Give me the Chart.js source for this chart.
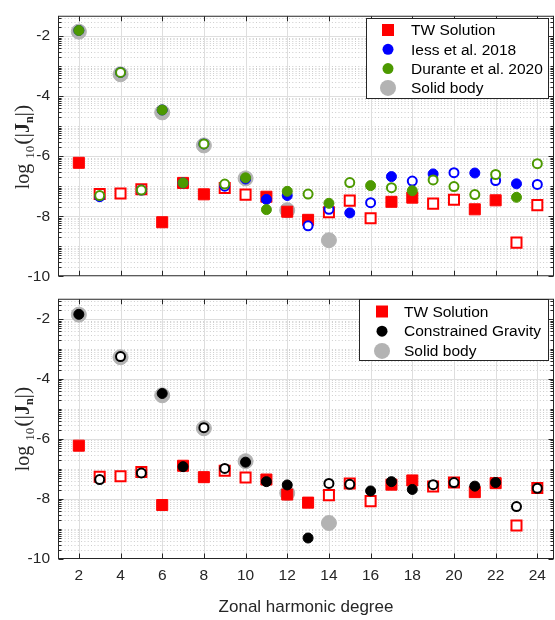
<!DOCTYPE html>
<html>
<head>
<meta charset="utf-8">
<script src="https://cdn.jsdelivr.net/npm/chart.js@4.4.1/dist/chart.umd.min.js"></script>
<style>
  html, body { margin: 0; padding: 0; background: #fff; }
  #wrap { position: relative; width: 555px; height: 620px; overflow: hidden; }
  canvas { position: absolute; left: 0; }
  #top { top: 0; }
  #bottom { top: 283px; }
  .ylab {
    position: absolute;
    font-family: "Liberation Serif", "DejaVu Serif", serif;
    font-size: 20px;
    color: #262626;
    white-space: nowrap;
    transform: translate(-50%, -50%) rotate(-90deg);
    line-height: 1;
  }
  .ylab .sub { font-size: 13px; position: relative; top: 5px; margin-left: 5px; margin-right: 1px; }
  .ylab .subn { font-size: 12px; position: relative; top: 4px; font-weight: bold; }
  .ylab .par { font-size: 22px; }
</style>
</head>
<body>
<div id="wrap">
  <canvas id="top" width="555" height="292" style="width:555px;height:292px"></canvas>
  <canvas id="bottom" width="555" height="337" style="width:555px;height:337px"></canvas>
  <div class="ylab" style="left:22px;top:147px">log<span class="sub">10</span><span class="par">(|</span><b>J</b><span class="subn">n</span><span class="par">|)</span></div>
  <div class="ylab" style="left:22px;top:429px">log<span class="sub">10</span><span class="par">(|</span><b>J</b><span class="subn">n</span><span class="par">|)</span></div>
</div>
<script>
// Zonal harmonic degrees n = 2 .. 24
const degrees = [2, 3, 4, 5, 6, 7, 8, 9, 10, 11, 12, 13, 14, 15, 16, 17, 18, 19, 20, 21, 22, 23, 24];

// log10 |Jn| for each solution; the *Filled arrays mark positive Jn (1) vs negative Jn (0)
const twLog     = [-6.22, -7.26, -7.24, -7.10, -8.20, -6.89, -7.27, -7.06, -7.28, -7.35, -7.85, -8.12, -7.87, -7.48, -8.07, -7.52, -7.38, -7.58, -7.45, -7.77, -7.47, -8.88, -7.63];
const twFilled  = [1, 0, 0, 0, 1, 1, 1, 0, 0, 1, 1, 1, 0, 0, 0, 1, 1, 0, 0, 1, 1, 0, 0];

const iessLog    = [-1.81, -7.35, -3.21, -7.13, -4.46, -6.89, -5.59, -7.00, -6.76, -7.44, -7.31, -8.32, -7.77, -7.89, -7.55, -6.68, -6.83, -6.59, -6.55, -6.56, -6.81, -6.92, -6.94];
const iessFilled = [1, 0, 0, 0, 1, 1, 0, 0, 1, 1, 1, 0, 0, 1, 0, 1, 0, 1, 0, 1, 0, 1, 0];

const duranteLog    = [-1.81, -7.31, -3.21, -7.13, -4.46, -6.89, -5.59, -6.93, -6.72, -7.78, -7.17, -7.26, -7.57, -6.88, -6.98, -7.05, -7.15, -6.79, -7.01, -7.28, -6.61, -7.37, -6.25];
const duranteFilled = [1, 0, 0, 0, 1, 1, 0, 0, 1, 1, 1, 0, 1, 0, 1, 0, 1, 0, 0, 0, 0, 1, 0];

const cgLog    = [-1.84, -7.35, -3.25, -7.13, -4.48, -6.92, -5.62, -6.98, -6.77, -7.42, -7.53, -9.30, -7.48, -7.51, -7.73, -7.42, -7.68, -7.52, -7.45, -7.57, -7.45, -8.25, -7.64];
const cgFilled = [1, 0, 0, 0, 1, 1, 0, 0, 1, 1, 1, 1, 0, 0, 1, 1, 1, 0, 0, 1, 1, 0, 0];

// Rigid (solid-body) rotation, even degrees only
const solidDegrees = [2, 4, 6, 8, 10, 12, 14];
const solidLog     = [-1.85, -3.27, -4.54, -5.64, -6.74, -7.80, -8.80];

// Axis ticks
const xTicks = [2, 4, 6, 8, 10, 12, 14, 16, 18, 20, 22, 24];
const yTicks = [-10, -8, -6, -4, -2];

const RED = '#ff0000', BLUE = '#0000ff', GREEN = '#4c9900', GRAY = '#b3b3b3', BLACK = '#000000';
const AXIS = '#262626';
const SANS = '"Liberation Sans", Arial, Helvetica, sans-serif';

function markerSeries(xs, ys, filled, o) {
  return {
    data: xs.map((d, i) => ({ x: d, y: ys[i] })),
    showLine: false,
    order: o.order,
    pointStyle: o.style,
    pointRadius: c => (filled[c.dataIndex] ? o.rFill : o.rOpen),
    pointBackgroundColor: c => (filled[c.dataIndex] ? o.color : '#ffffff'),
    pointBorderColor: o.color,
    pointBorderWidth: c => (filled[c.dataIndex] ? 1 : 2)
  };
}

const sq = { style: 'rect', rFill: 7.8, rOpen: 7.1 };
const dot = { style: 'circle', rFill: 5, rOpen: 4.5 };

// Minor positions within each decade (log10 spacing), majors at the even labels
function minorLevels(lo, hi) {
  const out = [];
  for (let d = Math.floor(lo); d < hi; d++) {
    for (let m = 2; m <= 10; m++) {
      const v = d + Math.log10(m);
      if (v <= lo || v >= hi) continue;
      const r = Math.round(v);
      if (Math.abs(v - r) < 1e-9 && r % 2 === 0) continue;
      out.push(v);
    }
  }
  return out;
}

const framePlugin = {
  id: 'frame',
  beforeDatasetsDraw(chart) {
    const { ctx, chartArea: a, scales: { x, y } } = chart;
    ctx.save();
    ctx.beginPath();
    ctx.rect(a.left, a.top, a.right - a.left, a.bottom - a.top);
    ctx.clip();
    ctx.lineWidth = 1;
    // dotted minor grid
    ctx.strokeStyle = '#cdcdcd';
    ctx.setLineDash([1, 2.3]);
    minorLevels(y.min, y.max).forEach(v => {
      const py = Math.round(y.getPixelForValue(v)) + 0.5;
      ctx.beginPath(); ctx.moveTo(a.left, py); ctx.lineTo(a.right, py); ctx.stroke();
    });
    // solid major grid
    ctx.setLineDash([]);
    ctx.strokeStyle = '#dedede';
    yTicks.forEach(v => {
      if (v <= y.min || v >= y.max) return;
      const py = Math.round(y.getPixelForValue(v)) + 0.5;
      ctx.beginPath(); ctx.moveTo(a.left, py); ctx.lineTo(a.right, py); ctx.stroke();
    });
    xTicks.forEach(v => {
      const px = Math.round(x.getPixelForValue(v)) + 0.5;
      ctx.beginPath(); ctx.moveTo(px, a.top); ctx.lineTo(px, a.bottom); ctx.stroke();
    });
    ctx.restore();
  },
  afterDatasetsDraw(chart) {
    const { ctx, chartArea: a, scales: { x, y } } = chart;
    const L = a.left + 0.5, R = a.right - 0.5, T = a.top + 0.5, B = a.bottom - 0.5;
    ctx.save();
    ctx.strokeStyle = AXIS;
    ctx.lineWidth = 1;
    ctx.beginPath();
    // y ticks, both sides, pointing inward
    yTicks.forEach(v => {
      const py = Math.round(y.getPixelForValue(v)) + 0.5;
      ctx.moveTo(L, py); ctx.lineTo(L + 5, py);
      ctx.moveTo(R, py); ctx.lineTo(R - 5, py);
    });
    minorLevels(y.min, y.max).forEach(v => {
      const py = Math.round(y.getPixelForValue(v)) + 0.5;
      ctx.moveTo(L, py); ctx.lineTo(L + 3, py);
      ctx.moveTo(R, py); ctx.lineTo(R - 3, py);
    });
    // x ticks, top and bottom
    xTicks.forEach(v => {
      const px = Math.round(x.getPixelForValue(v)) + 0.5;
      ctx.moveTo(px, B); ctx.lineTo(px, B - 5);
      ctx.moveTo(px, T); ctx.lineTo(px, T + 5);
    });
    ctx.stroke();
    ctx.strokeRect(L, T, R - L, B - T);
    ctx.restore();
  },
  afterDraw(chart, args, opts) {
    const lg = opts.legend;
    if (!lg) return;
    const { ctx } = chart;
    ctx.save();
    ctx.fillStyle = '#ffffff';
    ctx.fillRect(lg.x, lg.y, lg.w, lg.h);
    ctx.strokeStyle = AXIS;
    ctx.lineWidth = 1;
    ctx.strokeRect(lg.x + 0.5, lg.y + 0.5, lg.w - 1, lg.h - 1);
    ctx.font = '15.5px ' + SANS;
    ctx.textBaseline = 'middle';
    ctx.textAlign = 'left';
    lg.items.forEach((it, i) => {
      const cy = lg.y + lg.first + i * lg.step;
      ctx.fillStyle = it.color;
      ctx.beginPath();
      if (it.shape === 'rect') {
        ctx.rect(lg.mx - 6, cy - 6, 12, 12);
      } else {
        ctx.arc(lg.mx, cy, it.r, 0, Math.PI * 2);
      }
      ctx.fill();
      ctx.fillStyle = '#000000';
      ctx.fillText(it.label, lg.tx, cy + 1);
    });
    ctx.restore();
  }
};

function makePanel(id, datasets, legend, withXLabels, padTop, xHeight) {
  return new Chart(document.getElementById(id), {
    type: 'scatter',
    data: { datasets },
    plugins: [framePlugin],
    options: {
      responsive: false,
      animation: false,
      events: [],
      layout: { autoPadding: false, padding: { top: padTop, right: 1, left: 0, bottom: 0 } },
      plugins: {
        legend: { display: false },
        tooltip: { enabled: false },
        frame: { legend }
      },
      scales: {
        x: {
          type: 'linear', min: 1, max: 24.8,
          afterBuildTicks: s => { s.ticks = xTicks.map(v => ({ value: v })); },
          afterFit: s => { s.height = xHeight; },
          grid: { display: false, drawTicks: false },
          border: { display: false },
          ticks: {
            display: withXLabels,
            padding: 9,
            color: AXIS,
            font: { family: SANS, size: 15.5, lineHeight: 1 },
            callback: v => String(v)
          },
          title: {
            display: withXLabels,
            text: 'Zonal harmonic degree',
            color: AXIS,
            font: { family: SANS, size: 17 },
            padding: { top: 0, bottom: 2 }
          }
        },
        y: {
          type: 'linear', min: -10, max: -1.32,
          afterBuildTicks: s => { s.ticks = yTicks.map(v => ({ value: v })); },
          afterFit: s => { s.width = 58; },
          grid: { display: false, drawTicks: false },
          border: { display: false },
          ticks: {
            padding: 8,
            color: AXIS,
            font: { family: SANS, size: 15.5, lineHeight: 1 },
            callback: v => String(v)
          }
        }
      }
    }
  });
}

// Upper panel: wind solution against the gravity-field solutions
makePanel('top', [
  markerSeries(degrees, duranteLog, duranteFilled, Object.assign({ color: GREEN, order: 1 }, dot)),
  markerSeries(degrees, iessLog, iessFilled, Object.assign({ color: BLUE, order: 2 }, dot)),
  markerSeries(degrees, twLog, twFilled, Object.assign({ color: RED, order: 3 }, sq)),
  markerSeries(solidDegrees, solidLog, solidDegrees.map(() => 1), { color: GRAY, order: 4, style: 'circle', rFill: 7.5, rOpen: 7.5 })
], {
  x: 366, y: 18, w: 183, h: 81, mx: 388, tx: 411, first: 12, step: 19.3,
  items: [
    { label: 'TW Solution', shape: 'rect', color: RED },
    { label: 'Iess et al. 2018', shape: 'circle', color: BLUE, r: 5.5 },
    { label: 'Durante et al. 2020', shape: 'circle', color: GREEN, r: 5.5 },
    { label: 'Solid body', shape: 'circle', color: GRAY, r: 8 }
  ]
}, false, 10, 14);

// Lower panel: wind solution against the constrained gravity solution
makePanel('bottom', [
  markerSeries(degrees, cgLog, cgFilled, Object.assign({ color: BLACK, order: 1 }, dot)),
  markerSeries(degrees, twLog, twFilled, Object.assign({ color: RED, order: 2 }, sq)),
  markerSeries(solidDegrees, solidLog, solidDegrees.map(() => 1), { color: GRAY, order: 3, style: 'circle', rFill: 7.5, rOpen: 7.5 })
], {
  x: 359, y: 16, w: 190, h: 62, mx: 382, tx: 404, first: 12.5, step: 19.7,
  items: [
    { label: 'TW Solution', shape: 'rect', color: RED },
    { label: 'Constrained Gravity', shape: 'circle', color: BLACK, r: 5.5 },
    { label: 'Solid body', shape: 'circle', color: GRAY, r: 8 }
  ]
}, true, 8, 61);
</script>
</body>
</html>
